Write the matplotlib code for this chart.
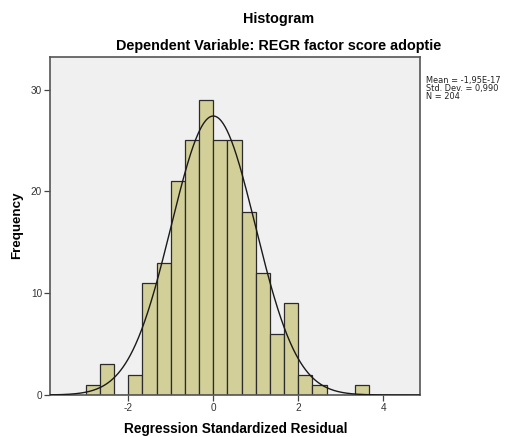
import numpy as np
import matplotlib
matplotlib.use("Agg")
import matplotlib.pyplot as plt

plt.rcParams['font.family'] = ['Liberation Sans', 'DejaVu Sans']

# Data
bin_start = -3.0
bin_width = 1.0 / 3.0
counts = [1, 3, 0, 2, 11, 13, 21, 25, 29, 25, 25, 18, 12, 6, 9, 2, 1, 0, 0, 1]
mean_val = -1.95e-17
std_val = 0.990
n_val = 204
x_ticks = [-2, 0, 2, 4]
y_ticks = [0, 10, 20, 30]

title = "Histogram"
subtitle = "Dependent Variable: REGR factor score adoptie"
xlabel = "Regression Standardized Residual"
ylabel = "Frequency"
stats_text = "Mean = -1,95E-17\nStd. Dev. = 0,990\nN = 204"

W, H = 505, 437
fig = plt.figure(figsize=(W / 100, H / 100), dpi=100)
ax = fig.add_axes([49.7 / W, 1 - 395 / H, (420 - 49.7) / W, (395 - 57) / H])
ax.set_facecolor('#F0F0F0')

lefts = bin_start + np.arange(len(counts)) * bin_width
ax.bar(lefts, counts, width=bin_width, align='edge', color='#D3CF98',
       edgecolor='#2b2b2b', linewidth=0.9, zorder=2)

xlim = (-3.85, 4.864)
xs = np.linspace(xlim[0], xlim[1], 600)
ys = n_val * bin_width * np.exp(-0.5 * ((xs - mean_val) / std_val) ** 2) / (std_val * np.sqrt(2 * np.pi))
ax.plot(xs, ys, color='#1a1a1a', linewidth=1.0, zorder=3)

ax.set_xlim(*xlim)
ax.set_ylim(0, 33.2)
ax.set_xticks(x_ticks)
ax.set_xticklabels([str(t) for t in x_ticks])
ax.set_yticks(y_ticks)
ax.set_yticklabels([str(t) for t in y_ticks])
ax.tick_params(axis='both', direction='out', length=4, width=0.9, color='#444444',
               labelsize=7.2, labelcolor='#333333', pad=1.5)

for side in ['left', 'top', 'right', 'bottom']:
    ax.spines[side].set_color('#555555')
    ax.spines[side].set_linewidth(1.2)

fig.text(235.5 / W, 1 - 429 / H, xlabel, ha='center', va='center',
         fontsize=9.8, fontweight='bold')
fig.text(17.5 / W, 1 - 225 / H, ylabel, ha='center', va='center', rotation=90,
         fontsize=9.6, fontweight='bold')

fig.text(278.5 / W, 1 - 19 / H, title, ha='center', va='center', fontsize=10.4, fontweight='bold')
fig.text(278.5 / W, 1 - 46 / H, subtitle, ha='center', va='center', fontsize=10.4, fontweight='bold')

fig.text(426 / W, 1 - 76.5 / H, stats_text, ha='left', va='top', fontsize=5.95,
         linespacing=0.84, color='#222222', family='DejaVu Sans')

fig.savefig('out.png', dpi=100)
